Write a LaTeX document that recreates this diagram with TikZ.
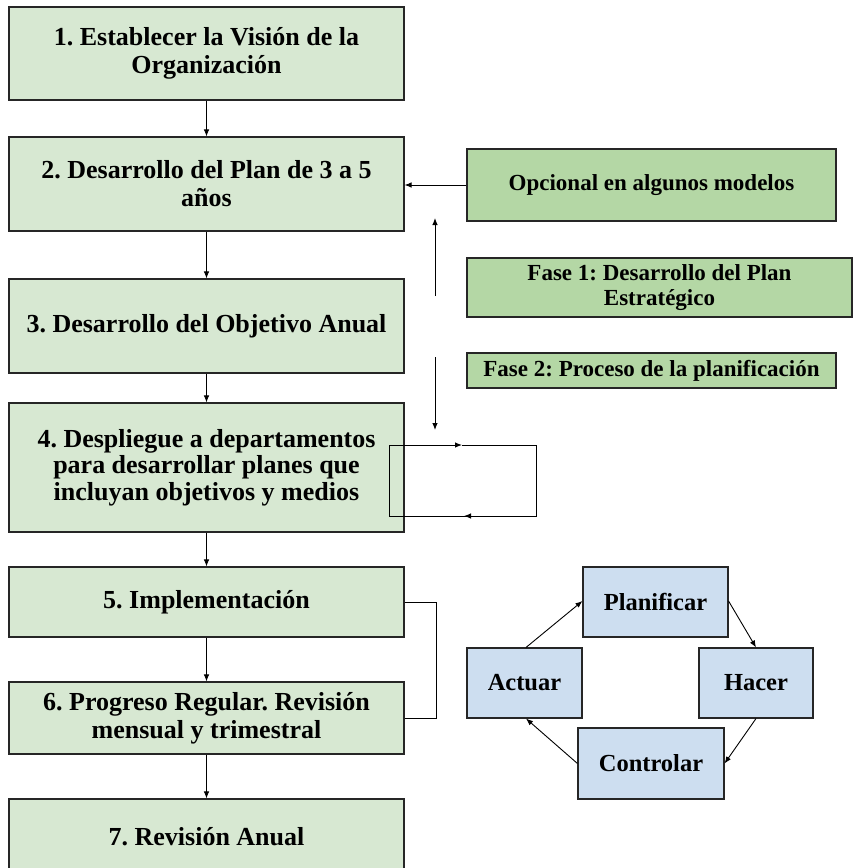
\documentclass[tikz,border=0pt]{standalone}
\usepackage{fontspec}
\setmainfont{Liberation Serif}
\usetikzlibrary{arrows.meta}
\definecolor{paleGreen}{HTML}{D7E8D2}
\definecolor{midGreen}{HTML}{B4D7A5}
\definecolor{paleBlue}{HTML}{CDDEF0}
\frenchspacing
\begin{document}
\begin{tikzpicture}[x=1pt,y=-1pt,
  boxbase/.style={draw=black!85, line width=1.1pt, align=center, inner sep=0pt, text=black},
  stepbox/.style={boxbase, fill=paleGreen, minimum width=395pt,
    font=\fontsize{26}{28}\selectfont\bfseries},
  sidebox/.style={boxbase, fill=midGreen,
    font=\fontsize{23}{25}\selectfont\bfseries},
  cyclebox/.style={boxbase, fill=paleBlue, minimum height=70pt,
    font=\fontsize{24.5}{27}\selectfont\bfseries},
  arr/.style={line width=0.9pt, -{Latex[length=7pt,width=5.5pt]}},
  wire/.style={line width=0.9pt}]
\useasboundingbox (0,0) rectangle (854,868);

% main sequence
\node[stepbox, minimum height=93pt]  (b1) at (206.5,53.5) {1. Establecer la Visión de la\\Organización};
\node[stepbox, minimum height=94pt]  (b2) at (206.5,184) {2. Desarrollo del Plan de 3 a 5\\años};
\node[stepbox, minimum height=94pt]  (b3) at (206.5,326) {3. Desarrollo del Objetivo Anual};
\node[stepbox, minimum height=129pt, font=\fontsize{26}{26.5}\selectfont\bfseries]
  (b4) at (206.5,467.5) {4. Despliegue a departamentos\\para desarrollar planes que\\incluyan objetivos y medios};
\node[stepbox, minimum height=70pt]  (b5) at (206.5,602) {5. Implementación};
\node[stepbox, minimum height=72pt]  (b6) at (206.5,718) {6. Progreso Regular. Revisión\\mensual y trimestral};
\node[stepbox, minimum height=76pt]  (b7) at (206.5,837) {7. Revisión Anual};

\draw[arr] (b1) -- (b2);
\draw[arr] (b2) -- (b3);
\draw[arr] (b3) -- (b4);
\draw[arr] (b4) -- (b5);
\draw[arr] (b5) -- (b6);
\draw[arr] (b6) -- (b7);

% side notes
\node[sidebox, minimum width=369pt, minimum height=72pt] (opc) at (651.5,185) {Opcional en algunos modelos};
\node[sidebox, minimum width=385pt, minimum height=59pt] (f1) at (659.5,287.5) {Fase 1: Desarrollo del Plan\\Estratégico};
\node[sidebox, minimum width=369pt, minimum height=35pt] (f2) at (651.5,370.5) {Fase 2: Proceso de la planificación};

\draw[arr] (opc.west) -- (opc.west -| b2.east);

% phase arrows
\coordinate (upS) at (435,296);
\coordinate (upE) at (435,218);
\coordinate (dnS) at (435,357);
\coordinate (dnE) at (435,430);
\draw[arr] (upS) -- (upE);
\draw[arr] (dnS) -- (dnE);

% feedback loop on step 4
\coordinate (lA) at (389,445);
\coordinate (lB) at (462,445);
\coordinate (lC) at (536,445);
\coordinate (lD) at (536,516);
\coordinate (lE) at (464,516);
\coordinate (lF) at (389,516);
\draw[arr] (lA) -- (lB);
\draw[wire] (lB) -- (lC) -- (lD) -- (lE);
\draw[arr] (lD) -- (lE);
\draw[wire] (lE) -- (lF) -- (lA);

% bracket between steps 5 and 6
\draw[wire] (b5.east) -- ++(32,0) |- (b6.east);

% PDCA cycle
\node[cyclebox, minimum width=145pt] (plan) at (655.5,602) {Planificar};
\node[cyclebox, minimum width=115pt] (act)  at (524.5,683) {Actuar};
\node[cyclebox, minimum width=114pt] (do)   at (756,683)   {Hacer};
\node[cyclebox, minimum width=146pt, minimum height=71pt] (chk) at (651,763.5) {Controlar};

\draw[arr] ([xshift=1.5pt]act.north) -- ([yshift=1pt]plan.west);
\draw[arr] ([yshift=1pt]plan.east) -- (do.north);
\draw[arr] (do.south) -- (chk.east);
\draw[arr] (chk.west) -- ([xshift=1.5pt]act.south);
\end{tikzpicture}
\end{document}
